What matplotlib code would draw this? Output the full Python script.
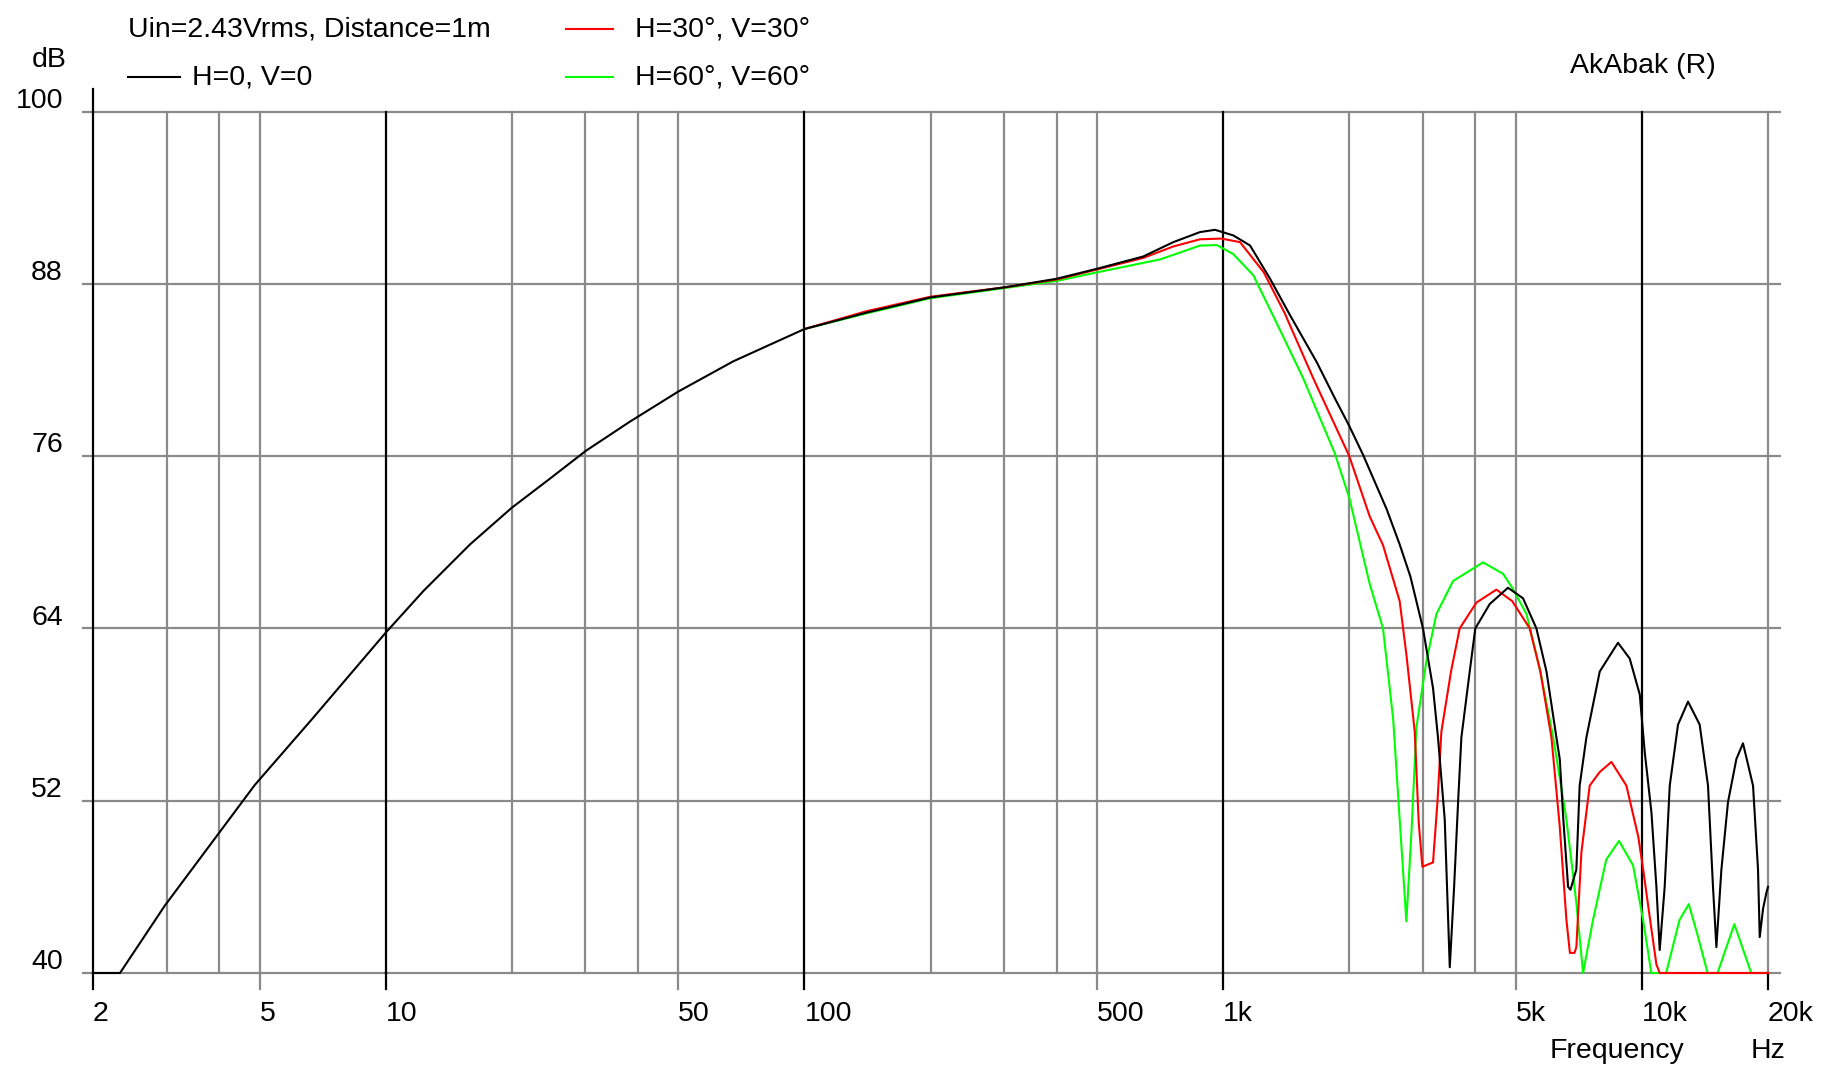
"""
plot.py
AkAbak Frequenzgang – SPL über Frequenz (0°, 30°, 60°)
"""

import matplotlib
matplotlib.use("Agg")
import matplotlib.pyplot as plt
from matplotlib.transforms import blended_transform_factory

# ─────────────────────────────────────────────
# DATEN
# ─────────────────────────────────────────────
FREQ_H0 = [2, 2.32, 2.97, 4.01, 4.87, 6.70, 10, 12.3, 15.9, 20, 24.6, 30, 38.3, 50,
           67.6, 100, 141, 200, 300, 400, 500, 644, 760, 880, 956, 1057, 1159,
           1294, 1445, 1672, 1850, 2000, 2157, 2457, 2639, 2800, 3000, 3170, 3258,
           3381, 3476, 3560, 3640, 3705, 3879, 4000, 4331, 4787, 5200, 5597, 5916,
           6249, 6364, 6490, 6663, 6750, 6972, 7100, 7367, 7930, 8766, 9349, 9880,
           10154, 10534, 10828, 11026, 11332, 11652, 12194, 12884, 13736, 14380,
           14780, 15058, 15478, 16050, 16808, 17430, 18420, 18932, 19110, 19470,
           19830, 20000]
SPL_H0 = [40, 40, 44.7, 49.8, 53.1, 57.75, 63.7, 66.6, 69.85, 72.4, 74.4, 76.35,
          78.4, 80.5, 82.6, 84.85, 86.0, 87.05, 87.75, 88.35, 89.05, 89.9, 90.9,
          91.6, 91.76, 91.37, 90.67, 88.35, 85.8, 82.55, 80.0, 78.1, 76.1, 72.3,
          69.85, 67.6, 64.0, 59.85, 56.4, 50.7, 40.4, 46.0, 52.0, 56.4, 61.0, 64.0,
          65.7, 66.83, 66.1, 64.0, 61.0, 56.4, 54.9, 50.7, 46.0, 45.8, 47.2, 53.05,
          56.4, 61.0, 63.0, 61.9, 59.4, 55.4, 51.2, 46.0, 41.6, 46.0, 53.05, 57.3,
          58.9, 57.3, 53.05, 46.0, 41.8, 47.2, 51.9, 54.9, 56.0, 53.05, 47.2, 42.5,
          44.5, 45.6, 46.0]

FREQ_H30 = [100, 141, 200, 300, 400, 500, 644, 760, 880, 990, 1097, 1250, 1400,
            1639, 2000, 2238, 2408, 2639, 2738, 2867, 2930, 2990, 3170, 3250, 3319,
            3500, 3671, 4025, 4492, 4900, 5396, 5720, 6080, 6364, 6601, 6730, 6900,
            6972, 7168, 7503, 7930, 8454, 9180, 9800, 10070, 10460, 10828, 11026,
            20000]
SPL_H30 = [84.85, 86.1, 87.1, 87.75, 88.3, 89.0, 89.8, 90.6, 91.1, 91.15, 90.9, 88.8,
           86.0, 81.45, 76.0, 71.8, 69.8, 65.9, 62.2, 56.8, 50.5, 47.4, 47.7, 52.0,
           56.8, 61.0, 64.0, 65.8, 66.7, 65.9, 64.0, 61.0, 56.4, 50.2, 43.7, 41.4,
           41.4, 41.8, 48.4, 53.05, 54.0, 54.7, 53.05, 49.5, 47.2, 43.7, 40.6, 40,
           40]

FREQ_H60 = [100, 141, 200, 300, 400, 500, 707, 880, 965, 1057, 1180, 1340, 1551,
            1847, 2000, 2238, 2408, 2546, 2639, 2738, 2817, 2893, 3056, 3230, 3539,
            4174, 4660, 4900, 5300, 5720, 6140, 6601, 6972, 7234, 7641, 8218, 8815,
            9523, 10063, 10530, 11423, 12296, 12940, 13590, 14350, 15155, 16620,
            18235, 20000]
SPL_H60 = [84.85, 85.95, 87.0, 87.7, 88.2, 88.8, 89.7, 90.66, 90.7, 90.07, 88.6, 85.3,
           81.45, 76.2, 73.1, 67.1, 64.0, 57.7, 50.7, 43.6, 49.9, 57.1, 61.7, 65.0,
           67.3, 68.6, 67.8, 66.83, 65.0, 61.0, 56.4, 50.7, 44.9, 40, 43.7, 47.9,
           49.2, 47.5, 43.7, 40, 40, 43.7, 44.8, 42.6, 40, 40, 43.4, 40, 40]

Y_TICKS = [40, 52, 64, 76, 88, 100]
X_LABEL_POS = [2, 5, 10, 50, 100, 500, 1000, 5000, 10000, 20000]
X_LABELS = ["2", "5", "10", "50", "100", "500", "1k", "5k", "10k", "20k"]

# ─────────────────────────────────────────────
# KONFIGURATION
# ─────────────────────────────────────────────
W, H = 1821, 1069
FONT = ["Liberation Sans Narrow", "Liberation Sans", "DejaVu Sans"]
FS = 20.5
GRAY = "#8a8a8a"

plt.rcParams["font.family"] = FONT

fig = plt.figure(figsize=(W / 100, H / 100), dpi=100, facecolor="white")
ax = fig.add_axes([93 / W, 1 - 973 / H, (1768 - 93) / W, (973 - 111.5) / H])
ax.set_xscale("log")
ax.set_xlim(2, 20000)
ax.set_ylim(40, 100)
ax.axis("off")


def px(x, y):
    """Pixel (von oben links) -> Figurkoordinaten"""
    return x / W, 1 - y / H


# Gitter horizontal (leicht über die Achse hinaus)
htrans = blended_transform_factory(ax.transAxes, ax.transData)
for yv in Y_TICKS:
    ax.plot([-0.006, 1.007], [yv, yv], transform=htrans,
            color=GRAY, lw=1.6, clip_on=False, zorder=1)

# Gitter vertikal
grid_freqs = [m * 10 ** d for d in range(0, 5) for m in (2, 3, 4, 5)] + [10, 100, 1000, 10000]
for f in sorted(set(grid_freqs)):
    if f < 2 or f > 20000:
        continue
    major = f in (2, 10, 100, 1000, 10000)
    ax.plot([f, f], [40, 100], color="black" if major else GRAY,
            lw=1.6, clip_on=False, zorder=2 if major else 1)

# Achse links über 100 hinaus
ax.plot([2, 2], [100, 101.6], color="black", lw=1.6, clip_on=False, zorder=2)

# Tick-Marken unter der 40er-Linie
for f in X_LABEL_POS:
    major = f in (2, 10, 100, 1000, 10000, 20000)
    ax.plot([f, f], [40, 38.9], color="black" if major else GRAY,
            lw=1.6, clip_on=False, zorder=1)

# Kurven
ax.plot(FREQ_H60, SPL_H60, color="#00ff00", lw=1.5, clip_on=False, zorder=3)
ax.plot(FREQ_H30, SPL_H30, color="#ff0000", lw=1.5, clip_on=False, zorder=4)
ax.plot(FREQ_H0, SPL_H0, color="black", lw=1.5, clip_on=False, zorder=5)

# Y-Beschriftung
ytrans = blended_transform_factory(fig.transFigure, ax.transData)
for yv in Y_TICKS:
    ax.text(63 / W, yv + 0.75, str(yv), transform=ytrans, ha="right", va="center",
            fontsize=FS)
fig.text(*px(67, 60), "dB", ha="right", va="center", fontsize=FS)

# X-Beschriftung
xtrans = blended_transform_factory(ax.transData, fig.transFigure)
for f, lab in zip(X_LABEL_POS, X_LABELS):
    ax.text(f, 1 - 1014 / H, lab, transform=xtrans, ha="left", va="center", fontsize=FS)
fig.text(*px(1550, 1051), "Frequency", ha="left", va="center", fontsize=FS)
fig.text(*px(1751, 1051), "Hz", ha="left", va="center", fontsize=FS)

# Legende / Kopf
fig.text(*px(128, 29), "Uin=2.43Vrms, Distance=1m", ha="left", va="center", fontsize=FS)
legend_items = [
    (128, 180, 192, 77, "black", "H=0, V=0"),
    (566, 613, 635, 29, "#ff0000", "H=30°, V=30°"),
    (566, 613, 635, 77, "#00ff00", "H=60°, V=60°"),
]
for x0, x1, xt, yl, col, lab in legend_items:
    fig.add_artist(plt.Line2D([x0 / W, x1 / W], [1 - yl / H, 1 - yl / H], color=col, lw=1.5))
    fig.text(*px(xt, yl), lab, ha="left", va="center", fontsize=FS)

fig.text(*px(1570, 66), "AkAbak (R)", ha="left", va="center", fontsize=FS)

fig.savefig("out.png", dpi=100, facecolor="white")
